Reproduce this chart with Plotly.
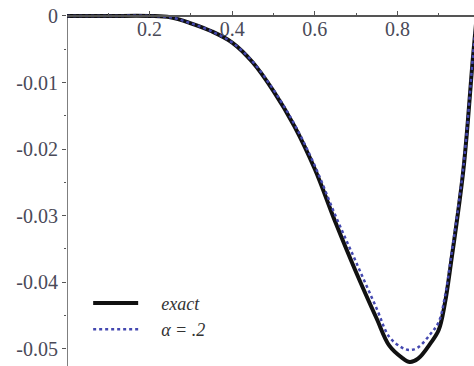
import plotly.graph_objects as go

x_vals = [0, 0.1, 0.2, 0.25, 0.3, 0.35, 0.4, 0.45, 0.5, 0.55, 0.6, 0.65, 0.7,
          0.75, 0.78, 0.81, 0.83, 0.85, 0.88, 0.9, 0.915, 0.93, 0.96, 0.983, 0.995]
exact_vals = [0, 0, 0, -0.0002, -0.0011, -0.0023, -0.0040, -0.0070, -0.0113,
              -0.0165, -0.0230, -0.0310, -0.0385, -0.0455, -0.0495, -0.0513,
              -0.0520, -0.0515, -0.0492, -0.0472, -0.0432, -0.0370, -0.0230,
              -0.0062, 0.002]
alpha_vals = [0, 0, 0, -0.0002, -0.0011, -0.0023, -0.0040, -0.0069, -0.0111,
              -0.0162, -0.0225, -0.0300, -0.0370, -0.0440, -0.0482, -0.0498,
              -0.0502, -0.0498, -0.0478, -0.0460, -0.0422, -0.0362, -0.0225,
              -0.0060, 0.002]

x_tick_vals = [0.2, 0.4, 0.6, 0.8]
x_tick_text = ["0.2", "0.4", "0.6", "0.8"]
y_tick_vals = [0, -0.01, -0.02, -0.03, -0.04, -0.05]
y_tick_text = ["0", "-0.01", "-0.02", "-0.03", "-0.04", "-0.05"]

x_range = [0, 0.9855]
y_range = [-0.0526, 0.0024]

font_fam = "Liberation Serif"
lab_col = "#4a4a58"
pad = "\u00a0\u00a0\u00a0\u00a0"

fig = go.Figure()
fig.add_trace(go.Scatter(x=x_vals, y=exact_vals, mode="lines", name=pad + "exact",
                         line=dict(color="#111111", width=4, shape="spline")))
fig.add_trace(go.Scatter(x=x_vals, y=alpha_vals, mode="lines", name=pad + "α = .2",
                         line=dict(color="#4448b0", width=2.5, dash="dot", shape="spline")))

# y-axis line from y=0 downward
fig.add_shape(type="line", xref="x", yref="y", x0=0, x1=0, y0=0, y1=y_range[0],
              line=dict(color="#555555", width=1.5), layer="below")

zero_pos = (0 - y_range[0]) / (y_range[1] - y_range[0])

fig.update_layout(
    width=474, height=366,
    margin=dict(l=67, r=0, t=0, b=0),
    paper_bgcolor="white", plot_bgcolor="white",
    showlegend=True,
    legend=dict(x=0.052, y=0.222, xanchor="left", yanchor="top",
                bgcolor="rgba(0,0,0,0)", tracegroupgap=0, itemwidth=45,
                font=dict(family=font_fam, size=18, color="#333333", style="italic")),
    xaxis=dict(range=x_range, anchor="free", position=zero_pos, side="bottom",
               showline=True, linecolor="#555555", linewidth=1.5,
               showgrid=False, zeroline=False,
               tickvals=x_tick_vals, ticktext=x_tick_text,
               ticks="inside", ticklen=4, tickcolor="#555555",
               ticklabelstandoff=-5,
               minor=dict(tickvals=[0.1, 0.3, 0.5, 0.7, 0.9], ticks="inside",
                          ticklen=2, tickcolor="#555555"),
               tickfont=dict(family=font_fam, size=20, color=lab_col)),
    yaxis=dict(range=y_range, showline=False, showgrid=False, zeroline=False,
               tickvals=y_tick_vals, ticktext=y_tick_text,
               ticks="outside", ticklen=4, tickcolor="#555555",
               minor=dict(tickvals=[-0.005, -0.015, -0.025, -0.035, -0.045],
                          ticks="outside", ticklen=2, tickcolor="#555555"),
               tickfont=dict(family=font_fam, size=20, color=lab_col)),
)

fig.write_html("out.html", config={"displayModeBar": False},
               post_script="document.body.style.margin='0';")
